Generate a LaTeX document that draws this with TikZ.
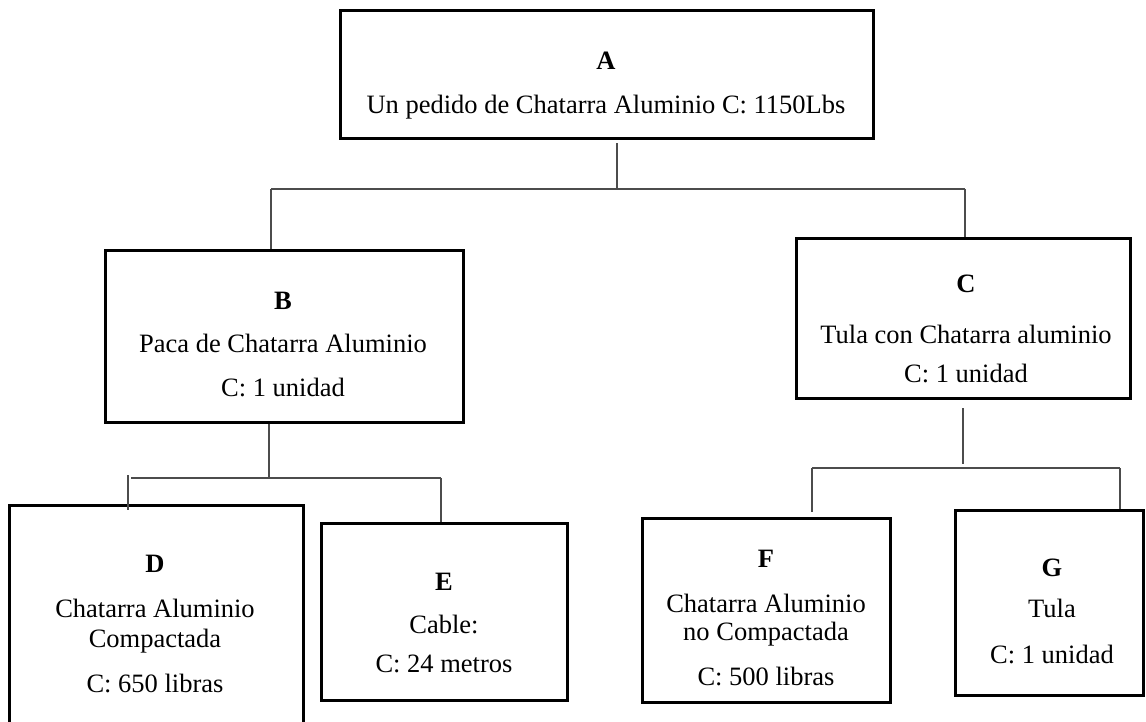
\documentclass[tikz,border=0pt]{standalone}
\usepackage{fontspec}
\setmainfont{Liberation Serif}
\begin{document}
\begin{tikzpicture}[x=1pt,y=-1pt,
  box/.style={draw=black,line width=3pt,rectangle,inner sep=0pt,fill=none},
  txt/.style={anchor=base,inner sep=0pt,font=\fontsize{26.5}{30}\selectfont},
  conn/.style={draw=black!70,line width=1.2pt}]
\useasboundingbox[fill=white] (0,0) rectangle (1146,722);

% boxes
\node[box,minimum width=533pt,minimum height=128pt] (A) at (606.5,75) {};
\node[box,minimum width=358pt,minimum height=171pt] (B) at (284,336.5) {};
\node[box,minimum width=334pt,minimum height=159pt] (C) at (963,318.5) {};
\node[box,minimum width=294pt,minimum height=260pt] (D) at (156,635) {};
\node[box,minimum width=246pt,minimum height=177pt] (E) at (444,611.5) {};
\node[box,minimum width=248pt,minimum height=184pt] (F) at (766,610) {};
\node[box,minimum width=188pt,minimum height=185pt] (G) at (1049,602.5) {};

% box texts
\node[txt] (A0) at (606,70) {\textbf{A}};
\node[txt] (A1) at (606,114) {Un pedido de Chatarra Aluminio C: 1150Lbs};

\node[txt] (B0) at (283,309) {\textbf{B}};
\node[txt] (B1) at (283,352) {Paca de Chatarra Aluminio};
\node[txt] (B2) at (283,396) {C: 1 unidad};

\node[txt] (C0) at (966,292) {\textbf{C}};
\node[txt] (C1) at (966,343) {Tula con Chatarra aluminio};
\node[txt] (C2) at (966,382) {C: 1 unidad};

\node[txt] (D0) at (155,572) {\textbf{D}};
\node[txt] (D1) at (155,617) {Chatarra Aluminio};
\node[txt] (D2) at (155,647) {Compactada};
\node[txt] (D3) at (155,692) {C: 650 libras};

\node[txt] (E0) at (444,590) {\textbf{E}};
\node[txt] (E1) at (444,633) {Cable:};
\node[txt] (E2) at (444,672) {C: 24 metros};

\node[txt] (F0) at (766,567) {\textbf{F}};
\node[txt] (F1) at (766,612) {Chatarra Aluminio};
\node[txt] (F2) at (766,640) {no Compactada};
\node[txt] (F3) at (766,685) {C: 500 libras};

\node[txt] (G0) at (1052,576) {\textbf{G}};
\node[txt] (G1) at (1052,617) {Tula};
\node[txt] (G2) at (1052,663) {C: 1 unidad};

% bus coordinates
\coordinate (aBus) at (617,189);
\coordinate (aL) at (271,189);
\coordinate (aR) at (965,189);
\coordinate (bBus) at (269,478);
\coordinate (bL) at (128,478);
\coordinate (bR) at (441,478);
\coordinate (cTop) at (963,408);
\coordinate (cBus) at (963,464);
\coordinate (cL) at (812,468);
\coordinate (cR) at (1120,468);

% A to B and C
\draw[conn] ([yshift=-3pt]A.south -| aBus) -- (aBus);
\draw[conn] (aL) -- (aR);
\draw[conn] (aL) -- (aL |- B.north);
\draw[conn] (aR) -- (aR |- C.north);

% B to D and E
\draw[conn] (B.south -| bBus) -- (bBus);
\draw[conn] ([xshift=3pt]bL) -- (bR);
\draw[conn] ([yshift=3pt]bL) -- ([yshift=-6pt]bL |- D.north);
\draw[conn] (bR) -- (bR |- E.north);

% C to F and G
\draw[conn] (cTop) -- (cBus);
\draw[conn] (cL) -- (cR);
\draw[conn] (cL) -- ([yshift=5pt]cL |- F.north);
\draw[conn] (cR) -- (cR |- G.north);
\end{tikzpicture}
\end{document}
